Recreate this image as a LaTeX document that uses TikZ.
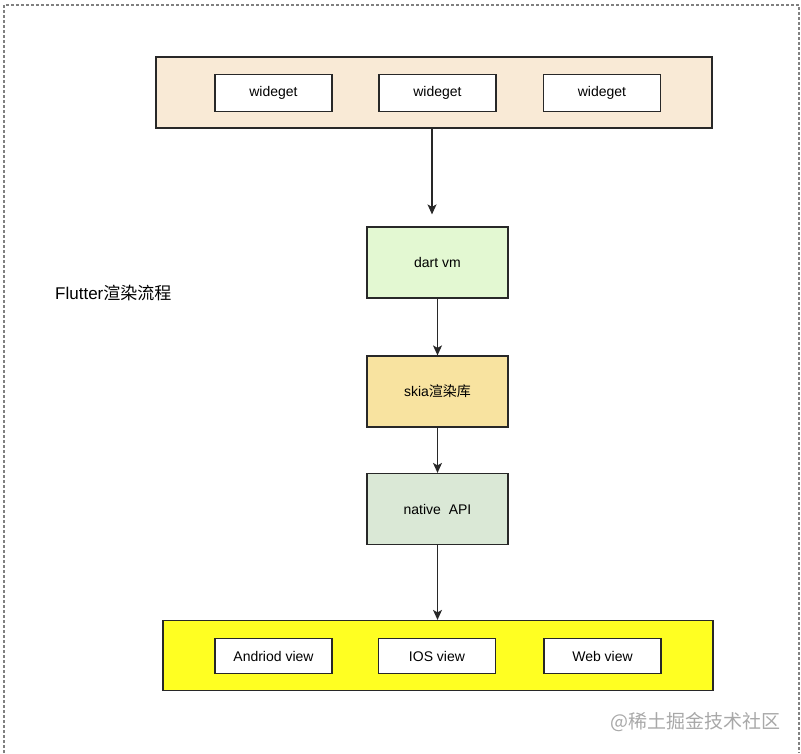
\documentclass[tikz,border=0pt]{standalone}
\usepackage{fontspec}
\setmainfont{Liberation Sans}
\newfontfamily\cjk{Noto Sans CJK SC}
\usetikzlibrary{arrows.meta}
\definecolor{barbeige}{RGB}{249,234,214}
\definecolor{dartgreen}{RGB}{227,248,210}
\definecolor{skiayellow}{RGB}{248,227,160}
\definecolor{nativegreen}{RGB}{218,232,214}
\definecolor{baryellow}{RGB}{255,255,34}
\definecolor{edge}{RGB}{40,40,40}
\definecolor{wmgray}{RGB}{168,168,168}
\tikzset{
  bar/.style={draw=edge, line width=1.2pt, inner sep=0pt},
  itembox/.style={draw=edge, line width=1.2pt, fill=white, minimum width=117pt, minimum height=37pt, inner sep=0pt, font=\fontsize{14pt}{16pt}\selectfont},
  stagebox/.style={draw=edge, line width=1.2pt, minimum width=141pt, minimum height=71pt, inner sep=0pt, font=\fontsize{14pt}{16pt}\selectfont},
  flow/.style={draw=edge, line width=1.3pt, -{Stealth[length=10pt,width=9pt,inset=2.5pt]}},
}
\begin{document}
\begin{tikzpicture}[x=1pt,y=-1pt]
\useasboundingbox (0,0) rectangle (801,753);
\draw[gray, line width=1.2pt, dash pattern=on 3pt off 2pt] (4,753) -- (4,5) -- (799,5) -- (799,753);
% top bar
\node[bar, fill=barbeige, minimum width=556pt, minimum height=71pt] (top) at (434,92.5) {};
\node[itembox] (w1) at (273.5,93) {wideget};
\node[itembox] (w2) at (437.5,93) {wideget};
\node[itembox] (w3) at (602,93) {wideget};
% stages
\node[stagebox, fill=dartgreen] (dart) at (437.5,262.5) {dart vm};
\node[stagebox, fill=skiayellow] (skia) at (437.5,391.5) {skia{\cjk 渲染库}};
\node[stagebox, fill=nativegreen] (native) at (437.5,509) {native\ \ API};
% bottom bar
\node[bar, fill=baryellow, minimum width=550pt, minimum height=70pt] (bottom) at (438,655.5) {};
\node[itembox, minimum height=35pt] (v1) at (273.5,656) {Andriod view};
\node[itembox, minimum height=35pt] (v2) at (437,656) {IOS view};
\node[itembox, minimum height=35pt] (v3) at (602.5,656) {Web view};
% title
\node[anchor=west, inner sep=0pt, font=\fontsize{17pt}{20pt}\selectfont] (title) at (55,293) {Flutter{\cjk 渲染流程}};
% connectors
\coordinate (tipdart) at ([xshift=-5.5pt,yshift=12pt]dart.north);
\draw[flow] (top.south -| tipdart) -- (tipdart);
\draw[flow] (dart.south) -- (skia.north);
\draw[flow] (skia.south) -- (native.north);
\draw[flow] (native.south) -- (native.south |- bottom.north);
% watermark
\node[anchor=east, inner sep=0pt, text=wmgray, font=\cjk\fontsize{19pt}{22pt}\selectfont] (wm) at (781,722) {@稀土掘金技术社区};
\end{tikzpicture}
\end{document}
